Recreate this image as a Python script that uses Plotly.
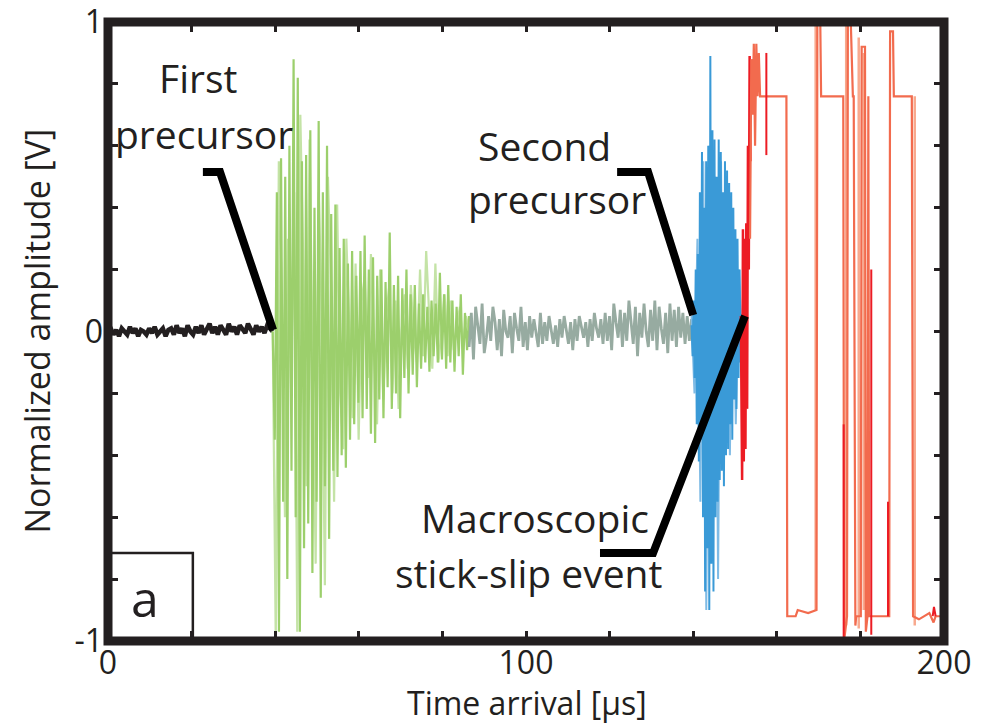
import numpy as np
import plotly.graph_objects as go

# ---------------- data ----------------
black_range = (0.0, 39.4)
black_v = [0.0, 0.01, -0.01, 0.005, -0.015, 0.01, 0.0, -0.01, 0.015, -0.005, 0.01, -0.015, 0.005, 0.0,
           -0.01, 0.01, -0.005, 0.015, -0.01, 0.0, 0.01, -0.015, 0.005, 0.01, -0.01, 0.02, -0.005, 0.01,
           -0.015, 0.02, 0.0, -0.01, 0.015, -0.005, 0.02, -0.01, 0.01, 0.025, -0.005, 0.015, -0.01, 0.02,
           0.005, -0.01, 0.025, 0.0, 0.015, -0.01, 0.02, 0.005, -0.005, 0.025, 0.01, -0.01, 0.02, 0.0,
           0.015, -0.005, 0.02, 0.01, 0.0]

green_range = (39.4, 86.4)
green_v = [0.00, -0.35, 0.45, -0.97, 0.56, -0.55, 0.50, -0.80, 0.60, -0.45, 0.88, -0.60, 0.82, -0.97,
           0.55, -0.70, 0.57, -0.62, 0.65, -0.78, 0.40, -0.55, 0.68, -0.86, 0.45, -0.50, 0.60, -0.67,
           0.38, -0.45, 0.41, -0.47, 0.27, -0.40, 0.30, -0.44, 0.22, -0.35, 0.26, -0.30, 0.18, -0.23,
           0.26, -0.28, 0.31, -0.25, 0.20, -0.33, 0.24, -0.36, 0.18, -0.22, 0.20, -0.28, 0.16, -0.18,
           0.32, -0.25, 0.15, -0.20, 0.18, -0.28, 0.14, -0.15, 0.20, -0.20, 0.12, -0.14, 0.15, -0.18,
           0.09, -0.12, 0.12, -0.10, 0.08, -0.13, 0.10, -0.08, 0.09, -0.10, 0.19, -0.09, 0.12, -0.12,
           0.15, -0.10, 0.10, -0.13, 0.08, -0.08, 0.12, -0.14, 0.06, -0.06, 0.05]
green_light_v = [0.0, -1.0, 0.55, 0.1, -0.6, 0.3, -0.2, 0.45, -0.97, 0.7, 0.2, -0.5, 0.62, -0.1, -0.75,
                 0.45, 0.05, -0.82, 0.5, 0.15, -0.55, 0.41, -0.2, -0.38, 0.3, 0.0, -0.28, 0.22, -0.35,
                 0.1, 0.18, -0.15, 0.25, -0.05, -0.3, 0.2, -0.22, 0.05, 0.15, -0.2, 0.1, -0.25, 0.0,
                 0.12, -0.12, 0.15, -0.02, -0.1, 0.2, -0.08, 0.26, 0.05, -0.12, 0.22, -0.1, 0.0, 0.12,
                 -0.08, 0.1, -0.06, 0.02, 0.08, -0.05, 0.05, 0.0]

gray_range = (86.4, 139.6)
gray_v = [-0.05, 0.06, -0.09, 0.08, 0.02, -0.04, 0.09, -0.07, -0.02, 0.05, -0.03, 0.08, 0.03, -0.06,
          0.04, -0.08, 0.07, 0.0, -0.02, 0.05, -0.07, 0.06, 0.01, -0.03, 0.08, -0.05, 0.03, -0.06, 0.05,
          -0.02, 0.04, 0.0, -0.05, 0.06, -0.04, 0.03, -0.03, 0.05, 0.01, -0.04, 0.02, -0.05, 0.04,
          -0.02, 0.05, 0.0, -0.04, 0.03, -0.06, 0.04, -0.03, 0.05, 0.02, -0.02, 0.03, -0.05, 0.04,
          -0.03, 0.06, 0.01, -0.02, 0.04, -0.04, 0.06, -0.03, 0.05, -0.06, 0.09, 0.03, -0.02, 0.07,
          -0.05, 0.06, -0.03, 0.10, 0.02, -0.04, 0.08, -0.08, 0.06, -0.02, 0.09, 0.0, -0.05, 0.07,
          -0.03, 0.10, -0.06, 0.08, 0.01, -0.04, 0.06, -0.07, 0.09, -0.03, 0.07, -0.05, 0.08, -0.02,
          0.06, -0.04, 0.05, -0.03, 0.04]

blue_range = (139.6, 151.6)
blue_v = [0.02, -0.08, 0.10, -0.15, 0.20, -0.30, 0.25, -0.42, 0.45, -0.35, 0.58, -0.60, 0.40, -0.84,
          0.55, -0.70, 0.60, -0.90, 0.89, -0.75, 0.65, -0.84, 0.62, -0.60, 0.50, -0.55, 0.62, -0.48,
          0.58, -0.45, 0.45, -0.50, 0.55, -0.40, 0.52, -0.38, 0.48, -0.30, 0.45, -0.35, 0.40, -0.22,
          0.33, -0.25, 0.30, -0.15, 0.20, -0.10, 0.05]
blue_light_v = [0.05, -0.2, 0.3, -0.55, 0.55, -0.9, 0.6, -0.6, 0.5, -0.8, 0.55, -0.45, 0.45, -0.4,
                0.35, -0.3, 0.2, 0.0]

red_t = [151.4, 151.7, 151.9, 152.1, 152.3, 152.5, 152.7, 152.9, 153.1, 153.3, 153.5, 153.7]
red_v = [0.05, -0.48, 0.33, -0.42, 0.30, -0.38, 0.35, -0.25, 0.60, 0.20, 0.89, 0.55]
red_extra_t = [157.5, 157.5, None, 176.0, 176.0, None, 182.6, 182.6, None, 186.6, 186.6, None, 197.3, 197.6, 198.0]
red_extra_v = [0.90, 0.57, None, -0.30, -1.02, None, 0.20, -0.98, None, -0.55, -0.92, None, -0.92, -0.89, -0.92]

orange_t = [153.6, 153.9, 154.2, 154.5, 154.8, 155.1, 155.4, 155.7, 156.0, 156.3, 162.3, 162.5, 164.5,
            165.0, 167.5, 169.5, 169.7, 170.4, 170.6, 175.9, 176.1, 176.8, 177.0, 177.7, 178.2, 178.4,
            178.8, 179.0, 180.1, 180.3, 181.1, 181.3, 181.7, 181.9, 182.1, 186.9, 187.1, 187.8, 188.0,
            192.3, 192.6, 194.0, 196.5, 197.5, 198.0, 200.0]
orange_v = [0.30, 0.88, 0.70, 0.93, 0.60, 0.93, 0.76, 0.90, 0.76, 0.76, 0.76, -0.92, -0.92, -0.90,
            -0.91, -0.90, 1.00, 1.00, 0.76, 0.76, -1.00, -0.92, 1.00, 1.00, 0.76, 0.76, -0.95, -0.92,
            -0.92, 0.92, 0.92, -0.97, -0.92, 0.76, -0.92, -0.92, 0.97, 0.97, 0.76, 0.76, -0.92, -0.93,
            -0.91, -0.94, -0.92, -0.92]
orange_light_t = [169.3, 169.3, None, 176.6, 176.6, None, 179.6, 179.6, None, 180.8, 180.8, None, 193.0, 193.0]
orange_light_v = [-0.90, 1.00, None, 1.00, -0.95, None, 0.95, -0.96, None, -0.90, 0.90, None, 0.76, -0.95]

x_ticks = [0, 100, 200]
y_ticks = [-1, 0, 1]
y_tick_text = ["-1", "0", "1"]

INK = "#231f20"
FONT = "Open Sans"


def span(rng, vals):
    return np.linspace(rng[0], rng[1], len(vals))


fig = go.Figure()


def add(x, y, color, width):
    fig.add_trace(go.Scatter(x=x, y=y, mode="lines", line=dict(color=color, width=width),
                             hoverinfo="skip", showlegend=False))


add(span(black_range, black_v), black_v, INK, 4.5)
add(span(green_range, green_light_v), green_light_v, "#c4e3a6", 2.2)
add(span(green_range, green_v), green_v, "#9ccf6c", 2.2)
add(span(gray_range, gray_v), gray_v, "#97aba1", 2.8)
add(span(blue_range, blue_light_v), blue_light_v, "#7fbbe5", 2)
add(span(blue_range, blue_v), blue_v, "#3a9ad7", 2)
add(red_t, red_v, "#ec1c24", 2.5)
add(orange_light_t, orange_light_v, "#f8a98e", 2.5)
add(orange_t, orange_v, "#f26b4e", 2.2)
add(red_extra_t, red_extra_v, "#ec1c24", 2)

# ---------------- annotations ----------------
texts = [
    ("First", 21.5, 0.82),
    ("precursor", 23.0, 0.64),
    ("Second", 104.5, 0.60),
    ("precursor", 107.4, 0.43),
    ("Macroscopic", 102.2, -0.60),
    ("stick-slip event", 100.5, -0.78),
]
for t, x, y in texts:
    fig.add_annotation(x=x, y=y, text=t, showarrow=False, xanchor="center", yanchor="middle",
                       font=dict(family=FONT, size=39, color=INK))

fig.add_annotation(x=8.9, y=-0.86, text="a", showarrow=False, xanchor="center", yanchor="middle",
                   font=dict(family=FONT, size=50, color=INK))

fig.add_annotation(xref="paper", yref="paper", x=0.501, y=-0.1, text="Time arrival [µs]",
                   showarrow=False, xanchor="center", yanchor="middle",
                   font=dict(family=FONT, size=32, color=INK))
fig.add_annotation(xref="paper", yref="paper", x=-0.086, y=0.5, text="Normalized amplitude [V]",
                   showarrow=False, xanchor="center", yanchor="middle", textangle=-90,
                   font=dict(family=FONT, size=34, color=INK))

# leader lines
leaders = [
    [(22.7, 0.515), (26.8, 0.515), (39.5, 0.005)],
    [(121.8, 0.515), (129.2, 0.515), (140.0, 0.053)],
    [(117.7, -0.716), (130.4, -0.716), (152.4, 0.05)],
]
for pts in leaders:
    path = "M " + " L ".join(f"{px},{py}" for px, py in pts)
    fig.add_shape(type="path", path=path, xref="x", yref="y",
                  line=dict(color="black", width=8), layer="above")

# "a" box
fig.add_shape(type="rect", xref="x", yref="y", x0=0, x1=20.3, y0=-1, y1=-0.716,
              line=dict(color=INK, width=2.5), layer="above")
# frame
fig.add_shape(type="rect", xref="paper", yref="paper", x0=0, x1=1, y0=0, y1=1,
              line=dict(color=INK, width=9), layer="above")

axis_common = dict(showgrid=False, zeroline=False, showline=False, ticks="inside", ticklen=10,
                   tickwidth=3, tickcolor=INK, mirror="ticks", ticklabeloverflow="allow",
                   automargin=False, tickfont=dict(family=FONT, size=32, color=INK))
fig.update_xaxes(range=[0, 200], tickmode="array", tickvals=x_ticks,
                 minor=dict(dtick=20, ticks="inside", ticklen=10, tickwidth=3, tickcolor=INK),
                 **axis_common)
fig.update_yaxes(range=[-1, 1], tickmode="array", tickvals=y_ticks, ticktext=y_tick_text,
                 ticklabelstandoff=4,
                 minor=dict(dtick=0.2, ticks="inside", ticklen=10, tickwidth=3, tickcolor=INK),
                 **axis_common)

fig.update_layout(width=985, height=724, margin=dict(l=108, r=41, t=22, b=83, autoexpand=False),
                  paper_bgcolor="white", plot_bgcolor="white", showlegend=False)

fig.write_html("out.html")
